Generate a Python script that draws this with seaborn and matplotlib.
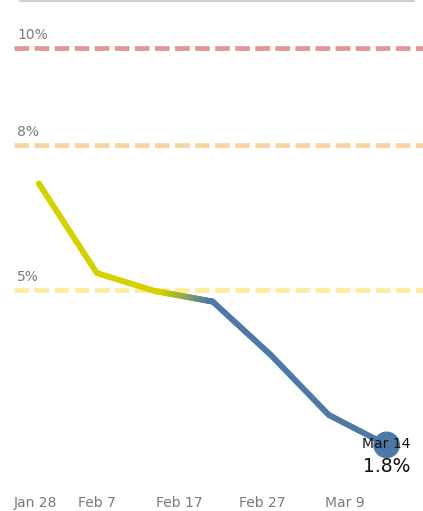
import numpy as np
import pandas as pd
import matplotlib
matplotlib.use("Agg")
import matplotlib.pyplot as plt
import matplotlib.dates as mdates
from matplotlib.collections import LineCollection
from matplotlib.colors import to_rgb
import seaborn as sns

# ---- data ----
dates = ["2021-01-31", "2021-02-07", "2021-02-14", "2021-02-21",
         "2021-02-28", "2021-03-07", "2021-03-14"]
rates = [7.2, 5.35, 4.98, 4.76, 3.66, 2.42, 1.8]
ref_values = [10, 8, 5]
ref_labels = ["10%", "8%", "5%"]
tick_dates = ["2021-01-28", "2021-02-07", "2021-02-17", "2021-02-27", "2021-03-09"]
tick_labels = ["Jan 28", "Feb 7", "Feb 17", "Feb 27", "Mar 9"]
last_label = "Mar 14"
last_value = "1.8%"

df = pd.DataFrame({"date": pd.to_datetime(dates), "rate": rates})

YELLOW = "#d4d100"
BLUE = "#4e79a7"
REF_COLORS = ["#e19595", "#fad3a2", "#fcec9e"]
GRAY = "#7a7a7a"

sns.set_style("white")
plt.rcParams["font.family"] = ["DejaVu Sans"]

W, H = 423, 511
fig = plt.figure(figsize=(W / 100, H / 100), dpi=100)
ax = fig.add_axes([14 / W, (H - 485) / H, 1 - 14 / W, (485 - 5) / H])

# x range: Jan 28 at left edge, ~8.28 px/day
x0 = pd.Timestamp("2021-01-28")
days_span = (W - 14) / 8.28
ax.set_xlim(x0, x0 + pd.Timedelta(days=days_span))
ax.set_ylim((532 - 485) / 48.4, (532 - 5) / 48.4)

# reference lines
for v, lab, c in zip(ref_values, ref_labels, REF_COLORS):
    ax.axhline(v, color=c, lw=3.4, linestyle=(0, (3.1, 1.15)), dash_capstyle="butt", zorder=1)
    ax.text(0.008, v + 0.27, lab, transform=ax.get_yaxis_transform(),
            color=GRAY, fontsize=10, ha="left", va="center")

# line: yellow part, gradient segment, blue part
lw = 4.3
sns.lineplot(data=df.iloc[0:3], x="date", y="rate", ax=ax, color=YELLOW, lw=lw,
             solid_capstyle="round", solid_joinstyle="round", zorder=3)
sns.lineplot(data=df.iloc[3:], x="date", y="rate", ax=ax, color=BLUE, lw=lw,
             solid_capstyle="round", solid_joinstyle="round", zorder=3)

# gradient between 3rd and 4th point (style only)
xa, xb = mdates.date2num(df["date"].iloc[2]), mdates.date2num(df["date"].iloc[3])
ya, yb = df["rate"].iloc[2], df["rate"].iloc[3]
n = 40
t = np.linspace(0, 1, n + 1)
xs = xa + (xb - xa) * t
ys = ya + (yb - ya) * t
segs = np.stack([np.column_stack([xs[:-1], ys[:-1]]), np.column_stack([xs[1:], ys[1:]])], axis=1)
cy, cb = np.array(to_rgb(YELLOW)), np.array(to_rgb(BLUE))
tm = (t[:-1] + t[1:]) / 2
w = np.clip((tm - 0.15) / 0.8, 0, 1)
cols = [tuple(cy * (1 - k) + cb * k) for k in w]
lc = LineCollection(segs, colors=cols, linewidths=lw, capstyle="round", joinstyle="round", zorder=3)
ax.add_collection(lc)

# end point
sns.scatterplot(data=df.iloc[[-1]], x="date", y="rate", ax=ax, color=BLUE, s=370,
                edgecolor="none", zorder=4, legend=False)
xl = df["date"].iloc[-1]
ax.text(xl, df["rate"].iloc[-1] + 0.02, last_label, ha="center", va="center",
        fontsize=10, color="#111111", zorder=5)
ax.text(xl, df["rate"].iloc[-1] - 0.45, last_value, ha="center", va="center",
        fontsize=13.5, color="#111111", zorder=5)

# ticks
ax.set_xticks(pd.to_datetime(tick_dates))
ax.set_xticklabels(tick_labels, color=GRAY, fontsize=10)
ax.get_xticklabels()[0].set_ha("left")
ax.tick_params(axis="x", length=0, pad=8)
ax.set_yticks([])
ax.set_xlabel("")
ax.set_ylabel("")
for s in ax.spines.values():
    s.set_visible(False)

# top gray rule
fig.add_artist(plt.Line2D([20 / W, 414 / W], [1 - 1 / H, 1 - 1 / H], color="#cfcfcf", lw=1.5))

fig.savefig("out.png", dpi=100)
